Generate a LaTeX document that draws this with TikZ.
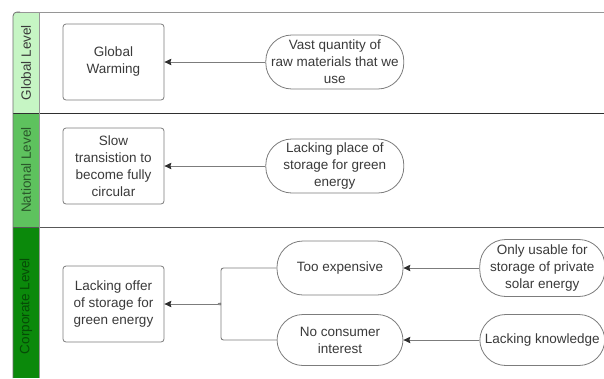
\documentclass[tikz,border=0pt]{standalone}
\usepackage{fontspec}
\setmainfont{Liberation Sans}
\usetikzlibrary{arrows.meta, positioning}
\definecolor{laneLight}{HTML}{C6F5C4}
\definecolor{laneMid}{HTML}{5EC25E}
\definecolor{laneDark}{HTML}{0B890B}
\definecolor{lineGray}{HTML}{7C7C7C}
\definecolor{textDark}{HTML}{3A3A3A}
\definecolor{edgeDark}{HTML}{2F2F2F}
\newcommand{\diagfont}{\fontsize{13.5}{17}\selectfont}
\tikzset{
  arrowK/.style={-{Stealth[length=7pt, width=6.5pt, inset=1pt, color=edgeDark]},
                 draw=lineGray, line width=0.9pt},
  joinK/.style={draw=lineGray, line width=0.9pt, rounded corners=2.5pt},
  boxEffect/.style={rectangle, rounded corners=3pt, draw=lineGray, line width=0.8pt,
                    fill=white, align=center, text=textDark, font=\diagfont,
                    minimum width=101pt, minimum height=76pt, inner sep=2pt},
  boxCause/.style={rectangle, rounded corners=26pt, draw=lineGray, line width=0.8pt,
                   fill=white, align=center, text=textDark, font=\diagfont,
                   minimum width=138pt, minimum height=54pt, inner sep=1pt},
  laneTag/.style={rotate=90, font=\diagfont, inner sep=0pt},
}
\begin{document}
\begin{tikzpicture}[x=1pt, y=-1pt, node distance=101pt]
  \useasboundingbox (0,0) rectangle (604,378);
  % swim lanes
  \fill[laneLight] (13,113) [rounded corners=4pt] -- (13,12) [sharp corners] -- (39,12) -- (39,113) -- cycle;
  \fill[laneMid] (13,113) rectangle (39,227);
  \fill[laneDark] (13,227) rectangle (39,378);
  \draw[lineGray!80, line width=1pt] (17,12) -- (604,12);
  \draw[edgeDark, line width=1pt] (13,113) -- (604,113);
  \draw[edgeDark!80, line width=1pt] (13,227) -- (604,227);
  \draw[edgeDark!70, line width=0.8pt] (13,378) [rounded corners=4pt] -- (13,12) -- (20,12);
  \draw[edgeDark!50, line width=0.6pt] (39,12) -- (39,378);
  \node[laneTag, text=textDark] (tagG) at (26,62.5) {Global Level};
  \node[laneTag, text=black!55!laneMid] (tagN) at (26,170) {National Level};
  \node[laneTag, text=black!45!laneDark] (tagC) at (26,306) {Corporate Level};

  % global level
  \node[boxEffect] (warm) at (113.5,62) {Global\\Warming};
  \node[boxCause, right=of warm] (vast) {Vast quantity of\\raw materials that we\\use};
  \draw[arrowK] (vast) -- (warm);

  % national level
  \node[boxEffect] (slow) at (113.5,166) {Slow\\transistion to\\become fully\\circular};
  \node[boxCause, right=of slow] (place) {Lacking place of\\storage for green\\energy};
  \draw[arrowK] (place) -- (slow);

  % corporate level
  \node[boxEffect] (offer) at (113.5,304) {Lacking offer\\of storage for\\green energy};
  \node[boxCause, minimum width=126pt] (cost) at (340,268) {Too expensive};
  \node[boxCause, minimum width=126pt, minimum height=51pt] (nocon) at (340,340) {No consumer\\interest};
  \node[boxCause, minimum width=125pt, minimum height=57pt, right=76pt of cost] (solar)
    {Only usable for\\storage of private\\solar energy};
  \node[boxCause, minimum width=125pt, minimum height=51pt, right=76pt of nocon] (know)
    {Lacking knowledge};
  \draw[arrowK] (solar) -- (cost);
  \draw[arrowK] (know) -- (nocon);
  \coordinate (jn) at (218,304);
  \draw[joinK] (cost.west) -| ([xshift=3pt, yshift=-2pt]jn) -- (jn);
  \draw[joinK] (nocon.west) -| ([xshift=3pt, yshift=2pt]jn) -- (jn);
  \draw[arrowK] (jn) -- (offer);
\end{tikzpicture}
\end{document}
